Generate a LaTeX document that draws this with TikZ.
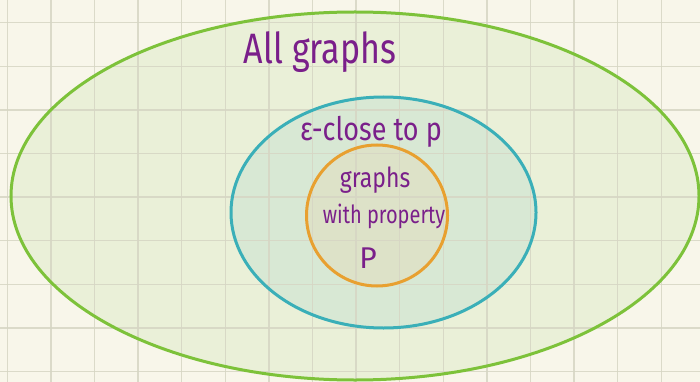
\documentclass[tikz,border=0pt]{standalone}
\usepackage{fontspec}
\setmainfont{Fira Sans}
\definecolor{bgcream}{HTML}{F8F6EA}
\definecolor{gridc}{HTML}{D6D6C4}
\definecolor{outerline}{HTML}{7DC23A}
\definecolor{outerfill}{HTML}{EAF0D8}
\definecolor{midline}{HTML}{3AAFB8}
\definecolor{midfill}{HTML}{D8E8D4}
\definecolor{innerline}{HTML}{E8A030}
\definecolor{innerfill}{HTML}{DDE2C8}
\definecolor{ink}{HTML}{7A1F8A}
\begin{document}
\begin{tikzpicture}[x=1pt,y=-1pt,
  gridline/.style={gridc,line width=1.4pt,opacity=0.85},
  setline/.style={line width=3pt},
  hand/.style={text=ink,inner sep=0pt,align=center}]
\useasboundingbox (0,0) rectangle (700,382);
\fill[bgcream] (0,0) rectangle (700,382);
% fills
\fill[outerfill] (355,196) ellipse [x radius=344, y radius=184];
\fill[midfill] (383.5,212.5) ellipse [x radius=152.5, y radius=115.5];
\fill[innerfill] (377,215.5) circle [radius=70.5];
% grid
\foreach \k in {0,...,15} \draw[gridline] ({7.3+43.6*\k},0) -- ({7.3+43.6*\k},382);
\foreach \k in {0,...,8} \draw[gridline] (0,{22.7+43.6*\k}) -- (700,{22.7+43.6*\k});
% outlines
\draw[setline,outerline] (355,196) ellipse [x radius=344, y radius=184];
\draw[setline,midline] (383.5,212.5) ellipse [x radius=152.5, y radius=115.5];
\draw[setline,innerline] (377,215.5) circle [radius=70.5];
% labels
\node[hand,font=\fontsize{34}{38}\selectfont,anchor=base,yscale=1.25] (all) at (320,64) {All graphs};
\node[hand,font=\fontsize{27}{30}\selectfont,anchor=base,yscale=1.2] (eps) at (371,141) {ε-close to p};
\node[hand,font=\fontsize{23}{26}\selectfont,anchor=base,yscale=1.2] (l1) at (375,187) {graphs};
\node[hand,font=\fontsize{20}{24}\selectfont,anchor=base,yscale=1.25] (l2) at (384,223) {with property};
\node[hand,font=\fontsize{30}{32}\selectfont,anchor=base] (l3) at (368,268) {P};
\end{tikzpicture}
\end{document}
